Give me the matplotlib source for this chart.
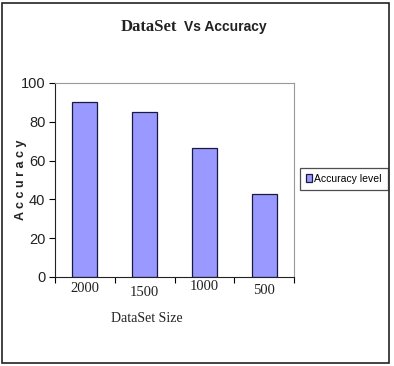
import matplotlib
matplotlib.use('Agg')
from matplotlib import pyplot as plt
from matplotlib.patches import Rectangle
import numpy as np

dataset_sizes = ["2000", "1500", "1000", "500"]
accuracy = [90, 85, 66.5, 43]
series_name = "Accuracy level"

W, H = 394, 366
fig = plt.figure(figsize=(W / 100, H / 100), dpi=100)
fig.patch.set_facecolor('white')

# outer frame
fig.add_artist(Rectangle((2 / W, 3 / H), 387 / W, 360 / H, transform=fig.transFigure,
                         fill=False, edgecolor='#222222', linewidth=1.2))

ax = fig.add_axes([55 / W, 1 - 277 / H, 239 / W, 194 / H])
x = np.arange(len(dataset_sizes))
ax.bar(x, accuracy, width=0.42, color='#9999FF', edgecolor='#1a1a40', linewidth=0.9,
       label=series_name)
ax.set_xlim(-0.5, len(dataset_sizes) - 0.5)
ax.set_ylim(0, 100)
ax.set_yticks([0, 20, 40, 60, 80, 100])

sans = ['Liberation Sans Narrow', 'Liberation Sans', 'DejaVu Sans']
serif = ['Liberation Serif', 'DejaVu Serif']

ax.set_xticks(np.arange(len(dataset_sizes) + 1) - 0.5)
ax.set_xticklabels([])
ax.tick_params(axis='x', length=4, width=0.8, direction='out')
ax.tick_params(axis='y', length=4, width=0.8, direction='out', pad=3)
for lbl in ax.get_yticklabels():
    lbl.set_fontfamily(sans)
    lbl.set_fontsize(10.5)
    lbl.set_color('#222222')

# category labels sit a little unevenly, as in the scan
offsets = [12, 16, 10, 14]
for i, name in enumerate(dataset_sizes):
    ax.annotate(name, xy=(i, 0), xycoords=('data', 'axes fraction'),
                xytext=(0, -offsets[i]), textcoords='offset pixels',
                ha='center', va='center', fontsize=10.5, family=serif, color='#222222')

ax.spines['top'].set_color('#999999')
ax.spines['right'].set_color('#999999')
ax.spines['left'].set_color('#222222')
ax.spines['bottom'].set_color('#222222')

# title: serif word then sans words, as in the original
fig.text(121 / W, 1 - 27 / H, "DataSet", ha='left', va='center',
         fontsize=12, fontweight='bold', family=serif, color='#222222')
fig.text(184 / W, 1 - 27 / H, "Vs Accuracy", ha='left', va='center',
         fontsize=10, fontweight='bold', family=sans, color='#222222')
fig.text(147 / W, 1 - 319 / H, "DataSet Size", ha='center', va='center',
         fontsize=10, family=serif, color='#222222')
fig.text(21 / W, 1 - 180 / H, "A c c u r a c y", ha='center', va='center',
         rotation=90, fontsize=9, fontweight='bold', family=sans, color='#222222')

leg = fig.legend(loc='center', bbox_to_anchor=(344 / W, 1 - 179 / H),
                 prop={'family': sans, 'size': 7.5}, handlelength=0.6,
                 handleheight=0.8, handletextpad=0.2, borderpad=0.6,
                 borderaxespad=0, fancybox=False, frameon=True, edgecolor='#222222')
leg.get_frame().set_linewidth(0.9)

fig.savefig('out.png', dpi=100)
